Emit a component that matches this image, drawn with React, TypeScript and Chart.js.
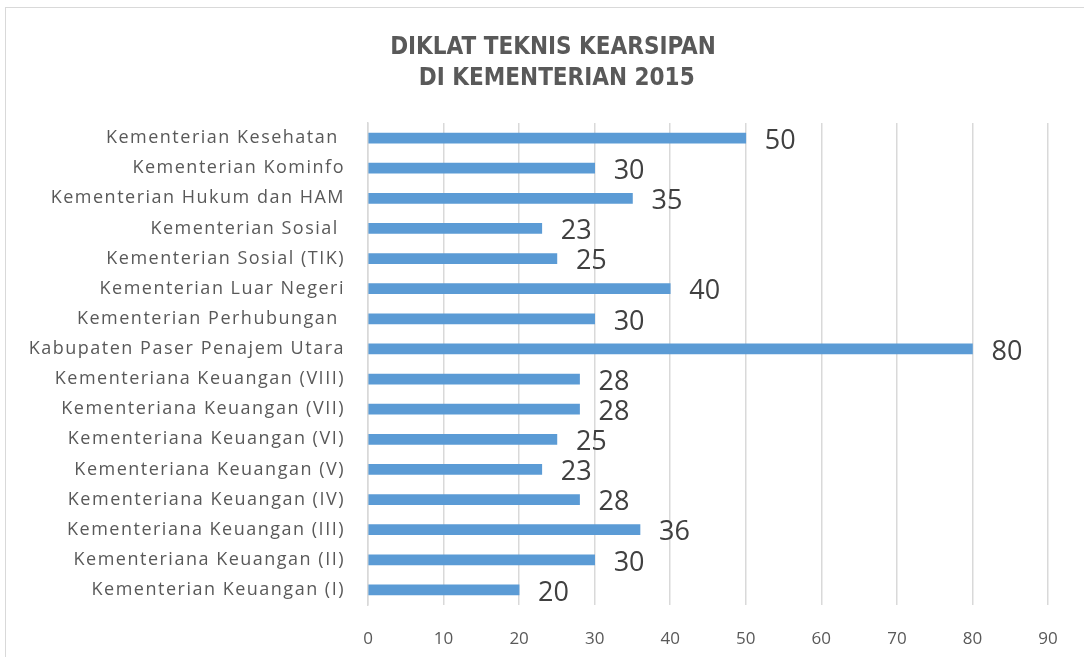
import React, { useEffect, useRef } from "react";
import { Chart, registerables } from "chart.js";

Chart.register(...registerables);

const titleLines = ["DIKLAT TEKNIS KEARSIPAN", " DI KEMENTERIAN 2015"];

const categories = [
  "Kementerian Kesehatan ",
  "Kementerian Kominfo",
  "Kementerian Hukum dan HAM",
  "Kementerian Sosial ",
  "Kementerian Sosial (TIK)",
  "Kementerian Luar Negeri",
  "Kementerian Perhubungan ",
  "Kabupaten Paser Penajem Utara",
  "Kementeriana Keuangan (VIII)",
  "Kementeriana Keuangan (VII)",
  "Kementeriana Keuangan (VI)",
  "Kementeriana Keuangan (V)",
  "Kementeriana Keuangan (IV)",
  "Kementeriana Keuangan (III)",
  "Kementeriana Keuangan (II)",
  "Kementerian Keuangan (I)",
];

const values = [50, 30, 35, 23, 25, 40, 30, 80, 28, 28, 25, 23, 28, 36, 30, 20];

const xMin = 0;
const xMax = 90;
const xStep = 10;

const valueLabelPlugin = {
  id: "valueLabels",
  afterDatasetsDraw(chart: any) {
    const ctx = chart.ctx;
    const meta = chart.getDatasetMeta(0);
    ctx.save();
    ctx.font = '27px "Open Sans"';
    ctx.fillStyle = "#404040";
    ctx.textAlign = "left";
    ctx.textBaseline = "middle";
    meta.data.forEach((bar: any, i: number) => {
      const v = chart.data.datasets[0].data[i];
      ctx.fillText(String(v), bar.x + 19, bar.y + 3);
    });
    ctx.restore();
  },
};

const titlePlugin = {
  id: "centeredTitle",
  afterDraw(chart: any) {
    const ctx = chart.ctx;
    ctx.save();
    ctx.font = "bold 24px 'DejaVu Sans Condensed', 'DejaVu Sans'";
    ctx.fillStyle = "#595959";
    ctx.textAlign = "center";
    ctx.textBaseline = "middle";
    titleLines.forEach((line, i) => {
      ctx.fillText(line, 553, 47.6 + i * 31.2);
    });
    ctx.restore();
  },
};

const spacingPlugin = {
  id: "yLabelSpacing",
  afterLayout(chart: any) {
    const s = chart.scales.y;
    if (s && !s.__patched) {
      const orig = s.drawLabels.bind(s);
      s.drawLabels = (area: any) => {
        const ctx = chart.ctx;
        ctx.save();
        (ctx as any).letterSpacing = "1.5px";
        orig(area);
        ctx.restore();
      };
      s.__patched = true;
    }
  },
};

export default function App() {
  const ref = useRef<HTMLCanvasElement>(null);

  useEffect(() => {
    if (!ref.current) return;
    const chart = new Chart(ref.current, {
      type: "bar",
      data: {
        labels: categories,
        datasets: [
          {
            data: values,
            backgroundColor: "#5b9bd5",
            borderWidth: 0,
            barThickness: 10,
          },
        ],
      },
      options: {
        indexAxis: "y",
        animation: false,
        responsive: false,
        maintainAspectRatio: false,
        layout: { padding: { left: 10, right: 36, top: 123, bottom: 0 } },
        plugins: {
          legend: { display: false },
          tooltip: { enabled: false },
          title: { display: false },
        },
        scales: {
          x: {
            min: xMin,
            max: xMax,
            ticks: {
              stepSize: xStep,
              color: "#595959",
              font: { family: "'Open Sans'", size: 17 },
              padding: 24,
            },
            grid: { color: "#d9d9d9", lineWidth: 1.5, drawTicks: false },
            border: { display: false },
            afterFit(scale: any) {
              scale.height = 52;
            },
          },
          y: {
            ticks: {
              color: "#595959",
              font: { family: "'Open Sans'", size: 18 },
              padding: 23,
              autoSkip: false,
            },
            grid: { display: false, drawTicks: false },
            border: { display: true, color: "#d9d9d9", width: 1.5 },
            afterFit(scale: any) {
              scale.width = 358;
            },
          },
        },
      },
      plugins: [valueLabelPlugin, titlePlugin, spacingPlugin],
    });
    return () => chart.destroy();
  }, []);

  return (
    <div style={{ position: "fixed", left: 0, top: 0, width: 1084, height: 657, background: "#fff", overflow: "hidden" }}>
      <div
        style={{
          position: "absolute",
          left: 5,
          top: 7,
          width: 1200,
          height: 800,
          border: "1.5px solid #d9d9d9",
        }}
      />
      <canvas ref={ref} width={1084} height={657} style={{ position: "absolute", left: 0, top: 0 }} />
    </div>
  );
}
